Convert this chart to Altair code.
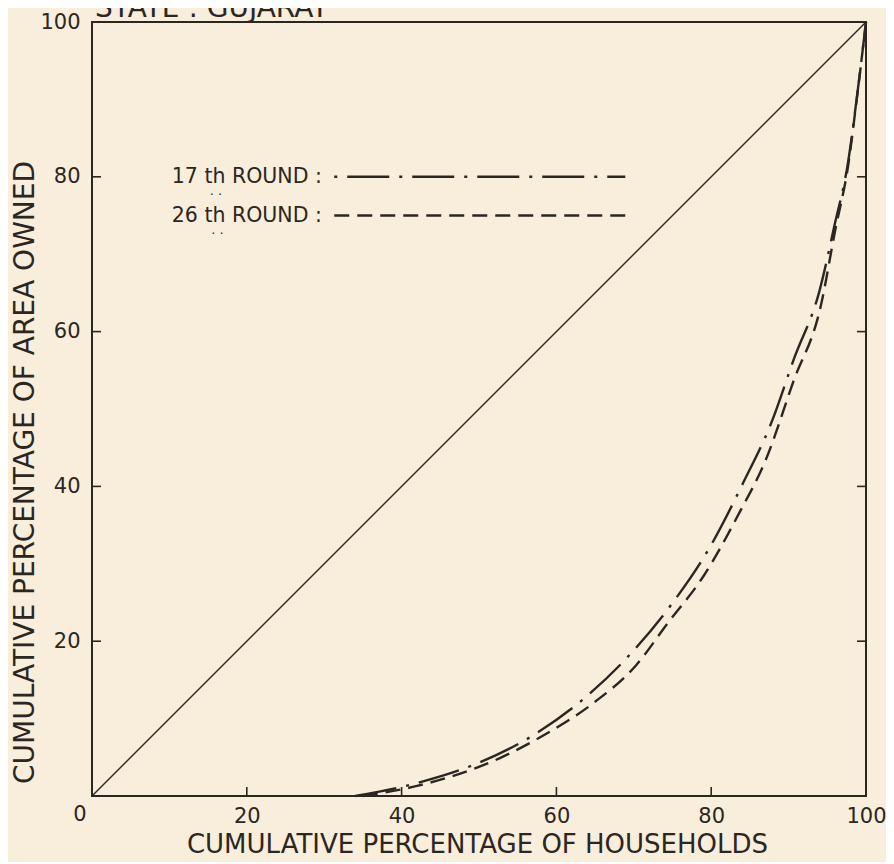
import altair as alt
import pandas as pd

# ---------------- data ----------------
x_ticks = [20, 40, 60, 80, 100]
y_ticks = [20, 40, 60, 80, 100]
inner_ticks = [20, 40, 60, 80]

# line of equal distribution
eq_x = [0, 100]
eq_y = [0, 100]

# 17th round (dash-dot)
x17 = [34.0, 42.1, 49.5, 57.1, 63.7, 69.7, 74.9, 79.8, 84.1, 87.8, 90.7, 94.0, 95.9, 97.7, 98.8, 100.0]
y17 = [0.0, 1.7, 4.1, 7.9, 12.7, 18.5, 24.8, 32.1, 40.4, 48.3, 56.5, 65.3, 73.6, 82.0, 90.1, 100.0]

# 26th round (dashed)
x26 = [35.0, 42.0, 52.7, 58.8, 64.5, 70.3, 74.5, 78.8, 83.8, 87.0, 90.6, 94.2, 96.0, 97.7, 98.8, 100.0]
y26 = [0.0, 1.3, 4.9, 8.1, 11.8, 16.9, 22.5, 28.1, 36.9, 43.3, 53.5, 63.5, 73.0, 81.5, 90.0, 100.0]

# in-plot key
legend_labels = ["17 th ROUND :", "26 th ROUND :"]
legend_y = [80.0, 75.0]
legend_text_x = [29.7, 29.7]
legend_line_x1 = [31.3, 31.3]
legend_line_x2 = [68.9, 68.9]
ditto_x = [16.0, 16.2]
ditto_y = [77.6, 72.55]

# heading (cut off at the top edge in the reference)
heading = ["STATE : GUJARAT"]

INK = "#2b2622"
PAPER = "#f8eedb"
FONT = "DejaVu Sans"

scale = alt.Scale(domain=[0, 100], nice=False, zero=False)

x_axis = alt.Axis(
    values=x_ticks, title="CUMULATIVE PERCENTAGE OF HOUSEHOLDS", grid=False, domain=False,
    ticks=False, labelFontSize=21, labelPadding=9, labelColor=INK, labelFont=FONT,
    labelFlush=False, labelOverlap=False,
    titleFont=FONT, titleFontSize=26, titleFontWeight="normal", titleColor=INK,
    titleX=385, titleY=48, titleBaseline="middle", titleAlign="center",
)
y_axis = alt.Axis(
    values=y_ticks, title="CUMULATIVE PERCENTAGE OF AREA OWNED", grid=False, domain=False,
    ticks=False, labelFontSize=21, labelPadding=12, labelColor=INK, labelFont=FONT,
    labelFlush=False, labelOverlap=False,
    titleFont=FONT, titleFontSize=28, titleFontWeight="normal", titleColor=INK,
    titleX=-67, titleY=450, titleBaseline="middle", titleAlign="center", titleAngle=270,
)


def X(f):
    return alt.X(f, type="quantitative", scale=scale, axis=x_axis)


def Y(f):
    return alt.Y(f, type="quantitative", scale=scale, axis=y_axis)


eq_df = pd.DataFrame({"x": eq_x, "y": eq_y})
r17 = pd.DataFrame({"x": x17, "y": y17})
r26 = pd.DataFrame({"x": x26, "y": y26})
tk = pd.DataFrame({"v": inner_ticks, "lo": [0] * len(inner_ticks), "hi": [100] * len(inner_ticks)})
leg = pd.DataFrame({
    "label": legend_labels, "ly": legend_y, "tx": legend_text_x,
    "x1": legend_line_x1, "x2": legend_line_x2, "dx": ditto_x, "dy": ditto_y,
})
zero_df = pd.DataFrame({"x": [0], "y": [0], "t": ["0"]})
head_df = pd.DataFrame({"x": [0], "y": [100], "t": heading})

DASHDOT = [42, 10, 3, 10]
DASHED = [15, 8]

diag = alt.Chart(eq_df).mark_line(color=INK, strokeWidth=1.4).encode(x=X("x"), y=Y("y"))

c17 = alt.Chart(r17).mark_line(color=INK, strokeWidth=2.4, strokeDash=DASHDOT,
                               interpolate="monotone").encode(x=X("x"), y=Y("y"))
c26 = alt.Chart(r26).mark_line(color=INK, strokeWidth=2.4, strokeDash=DASHED,
                               interpolate="monotone").encode(x=X("x"), y=Y("y"))

left_ticks = alt.Chart(tk).mark_rule(color=INK, strokeWidth=1.6, x2Offset=9).encode(
    x=X("lo"), x2="lo", y=Y("v"))
right_ticks = alt.Chart(tk).mark_rule(color=INK, strokeWidth=1.6, x2Offset=-9).encode(
    x=X("hi"), x2="hi", y=Y("v"))
bottom_ticks = alt.Chart(tk).mark_rule(color=INK, strokeWidth=1.6, y2Offset=-9).encode(
    x=X("v"), y=Y("lo"), y2="lo")

zero_lbl = alt.Chart(zero_df).mark_text(color=INK, font=FONT, fontSize=21, dx=-12, dy=19,
                                        align="center", baseline="middle").encode(
    x=X("x"), y=Y("y"), text="t:N")

head_lbl = alt.Chart(head_df).mark_text(color=INK, font=FONT, fontSize=28, dx=3, dy=-5,
                                        align="left", baseline="alphabetic").encode(
    x=X("x"), y=Y("y"), text="t:N")

leg_text = alt.Chart(leg).mark_text(color=INK, font=FONT, fontSize=20.5, align="right",
                                    baseline="middle").encode(
    x=X("tx"), y=Y("ly"), text="label:N")
leg_ditto = alt.Chart(leg).mark_text(color=INK, font=FONT, fontSize=13, align="center",
                                     baseline="middle").encode(
    x=X("dx"), y=Y("dy"), text=alt.value("· ·"))
leg17 = alt.Chart(leg.iloc[[0]]).mark_rule(color=INK, strokeWidth=2.4, strokeDash=DASHDOT,
                                           strokeDashOffset=52).encode(
    x=X("x1"), x2="x2", y=Y("ly"))
leg26 = alt.Chart(leg.iloc[[1]]).mark_rule(color=INK, strokeWidth=2.4, strokeDash=DASHED).encode(
    x=X("x1"), x2="x2", y=Y("ly"))

chart = alt.layer(
    diag, c17, c26, left_ticks, right_ticks, bottom_ticks, zero_lbl, head_lbl,
    leg_text, leg_ditto, leg17, leg26,
).properties(
    width=774, height=774,
    padding={"left": 84, "top": 14, "right": 20, "bottom": 66},
    autosize=alt.AutoSizeParams(type="none"),
).configure(background=PAPER).configure_view(stroke=INK, strokeWidth=2)

chart.save("out.html", embed_options={"renderer": "svg", "actions": False})
